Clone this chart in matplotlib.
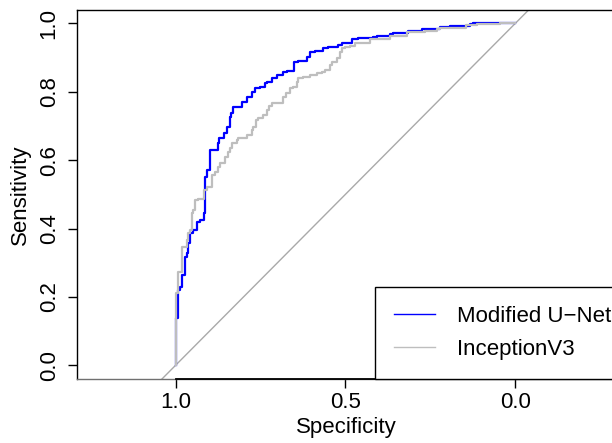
import matplotlib
matplotlib.use("Agg")
import matplotlib.pyplot as plt

plt.rcParams["font.family"] = ["Liberation Sans", "DejaVu Sans"]

# ROC curve points (specificity, sensitivity)
unet_spec = [1.000, 1.000, 1.000, 0.994, 0.994, 0.987, 0.981, 0.981, 0.972, 0.972,
             0.966, 0.963, 0.963, 0.957, 0.948, 0.938, 0.928, 0.916, 0.913, 0.913,
             0.908, 0.899, 0.891, 0.874, 0.872, 0.857, 0.849, 0.840, 0.838, 0.830,
             0.818, 0.805, 0.791, 0.776, 0.766, 0.751, 0.737, 0.732, 0.717, 0.702,
             0.683, 0.673, 0.651, 0.639, 0.614, 0.604, 0.590, 0.565, 0.551, 0.521,
             0.511, 0.481, 0.462, 0.418, 0.408, 0.369, 0.359, 0.315, 0.305, 0.276,
             0.222, 0.193, 0.134, 0.124, 0.114, 0.000]
unet_sens = [0.000, 0.074, 0.103, 0.138, 0.191, 0.220, 0.229, 0.249, 0.264, 0.308,
             0.317, 0.328, 0.358, 0.358, 0.386, 0.396, 0.420, 0.425, 0.444, 0.493,
             0.551, 0.571, 0.630, 0.630, 0.649, 0.664, 0.678, 0.698, 0.727, 0.737,
             0.754, 0.756, 0.771, 0.785, 0.800, 0.810, 0.813, 0.825, 0.829, 0.839,
             0.849, 0.858, 0.861, 0.886, 0.890, 0.902, 0.917, 0.920, 0.927, 0.932,
             0.937, 0.943, 0.953, 0.956, 0.959, 0.963, 0.968, 0.972, 0.977, 0.978,
             0.983, 0.989, 0.992, 0.997, 1.000, 1.000]

incep_spec = [1.000, 1.000, 0.994, 0.992, 0.982, 0.980, 0.967, 0.962, 0.957, 0.952,
              0.948, 0.943, 0.933, 0.916, 0.908, 0.894, 0.884, 0.874, 0.869, 0.854,
              0.845, 0.840, 0.835, 0.820, 0.815, 0.805, 0.791, 0.776, 0.771, 0.763,
              0.756, 0.742, 0.730, 0.724, 0.717, 0.702, 0.683, 0.676, 0.663, 0.654,
              0.644, 0.639, 0.624, 0.604, 0.585, 0.570, 0.560, 0.546, 0.541, 0.526,
              0.516, 0.511, 0.501, 0.487, 0.472, 0.428, 0.369, 0.320, 0.266, 0.232,
              0.222, 0.144, 0.114, 0.046, 0.000]
incep_sens = [0.000, 0.191, 0.211, 0.241, 0.274, 0.342, 0.347, 0.366, 0.387, 0.396,
              0.445, 0.454, 0.483, 0.485, 0.513, 0.522, 0.556, 0.566, 0.581, 0.591,
              0.610, 0.625, 0.635, 0.649, 0.659, 0.664, 0.665, 0.673, 0.688, 0.698,
              0.717, 0.722, 0.732, 0.746, 0.758, 0.766, 0.768, 0.785, 0.795, 0.810,
              0.815, 0.829, 0.839, 0.844, 0.849, 0.856, 0.858, 0.863, 0.878, 0.888,
              0.898, 0.917, 0.927, 0.932, 0.934, 0.943, 0.953, 0.964, 0.975, 0.977,
              0.983, 0.987, 0.995, 0.998, 1.000]

labels = ["Modified U\u2212Net", "InceptionV3"]
colors = ["#0000FF", "#BEBEBE"]
x_ticks = [1.0, 0.5, 0.0]
y_ticks = [0.0, 0.2, 0.4, 0.6, 0.8, 1.0]

W, H = 612, 443
FS = 16
fig = plt.figure(figsize=(W / 100, H / 100), dpi=100)
# plot region in pixels: left 77, right just past the image edge, top 9.6, bottom 379
ax = fig.add_axes([77 / W, 1 - 379 / H, (616 - 77) / W, (379 - 9.6) / H])

ax.set_xlim(1.29, -0.296)
ax.set_ylim(-0.04, 1.04)

# chance diagonal
ax.axline((1, 0), (0, 1), color="#A9A9A9", lw=1, zorder=1)

ax.plot(unet_spec, unet_sens, color=colors[0], lw=1.6, label=labels[0],
        drawstyle="steps-pre", zorder=2)
ax.plot(incep_spec, incep_sens, color=colors[1], lw=1.6, label=labels[1],
        drawstyle="steps-pre", zorder=3)

# box / axes like base R
for side in ["left", "top", "right"]:
    ax.spines[side].set_color("black")
    ax.spines[side].set_linewidth(1)
ax.spines["bottom"].set_color("#707070")
ax.spines["bottom"].set_linewidth(1)
ax.plot([1.0, 0.0], [-0.04, -0.04], color="black", lw=1.3, clip_on=False, zorder=5)

ax.set_xticks(x_ticks)
ax.set_xticklabels([f"{t:.1f}" for t in x_ticks])
ax.set_yticks(y_ticks)
ax.set_yticklabels([f"{t:.1f}" for t in y_ticks])
ax.tick_params(axis="both", direction="out", length=6.5, width=1, labelsize=FS,
               color="black")
ax.tick_params(axis="x", pad=2.5)
ax.tick_params(axis="y", pad=6, labelrotation=90)
for lab in ax.get_yticklabels():
    lab.set_va("center")

ax.set_xlabel("Specificity", fontsize=FS)
ax.set_ylabel("Sensitivity", fontsize=FS)
ax.xaxis.set_label_coords(0.5, -0.13)
ax.xaxis.label.set_va("center")
ax.yaxis.set_label_coords(-0.104, 0.5)
ax.yaxis.label.set_va("center")

leg = ax.legend(loc="lower left", bbox_to_anchor=((375 - 77) / 539, 0.0),
                borderaxespad=0, fancybox=False, framealpha=1,
                edgecolor="black", fontsize=FS, handlelength=1.86,
                handletextpad=0.95, labelspacing=0.55, borderpad=0.86)
leg.get_frame().set_linewidth(1)
for line in leg.get_lines():
    line.set_linewidth(1)

fig.savefig("out.png", dpi=100)
